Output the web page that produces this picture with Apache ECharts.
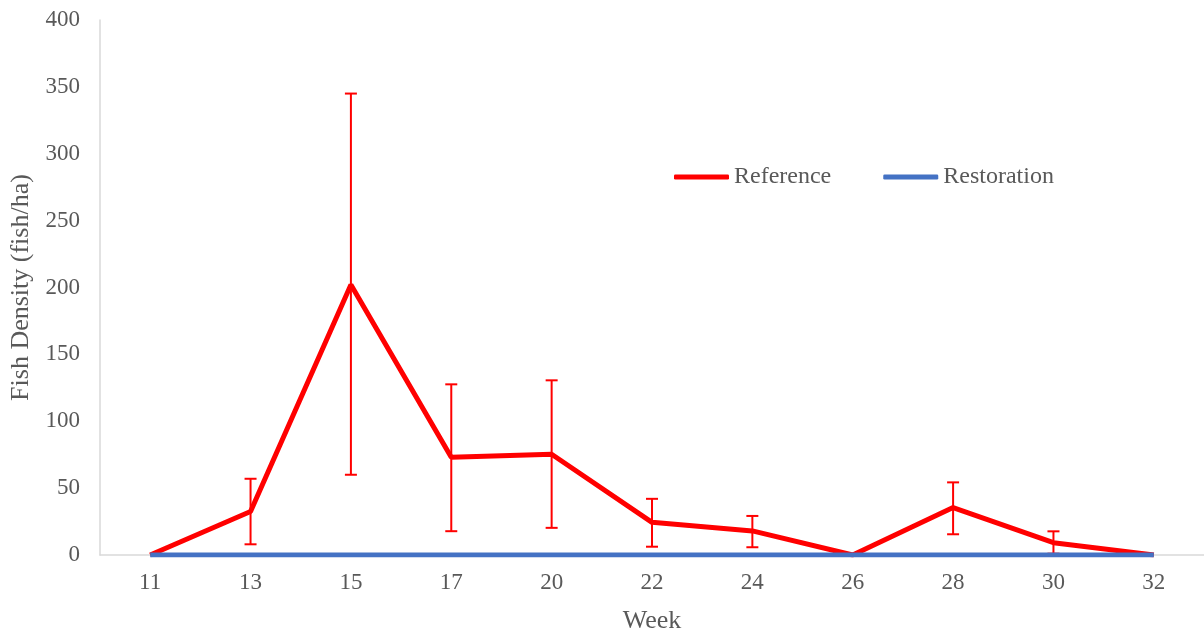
<!DOCTYPE html>
<html><head><meta charset="utf-8">
<script src="https://cdn.jsdelivr.net/npm/echarts@6/dist/echarts.min.js"></script>
<style>html,body{margin:0;padding:0;background:#fff}#c{width:1204px;height:636px}</style>
</head><body><div id="c"></div>
<script>
const weeks = ['11','13','15','17','20','22','24','26','28','30','32'];
const reference = [0, 32.5, 202, 73, 75.3, 24.4, 18, 0, 35.5, 9.2, 0];
const restoration = [0,0,0,0,0,0,0,0,0,0,0];
const errLow = [null, 8, 60, 17.8, 20.3, 6.2, 5.8, null, 15.5, 1, null];
const errHigh = [null, 57, 345, 127.6, 130.6, 42, 29.2, null, 54.3, 17.7, null];
const yTicks = [0,50,100,150,200,250,300,350,400];

const errData = weeks.map((w,i)=> errLow[i]==null ? null : [i, errLow[i], errHigh[i]]).filter(d=>d);
const font = '"Liberation Serif", "Times New Roman", serif';
const chart = echarts.init(document.getElementById('c'));
chart.setOption({
  animation:false,
  grid:{left:100,right:0,top:20,bottom:81,outerBoundsMode:'none',containLabel:false},
  legend:{
    data:['Reference','Restoration'], left:674, top:165, padding:0, itemWidth:55, itemHeight:5, itemGap:52,
    icon:'roundRect',
    textStyle:{fontFamily:font,fontSize:24,color:'#595959'}
  },
  xAxis:{
    type:'category', data:weeks, boundaryGap:true,
    name:'Week', nameLocation:'middle', nameGap:53,
    nameTextStyle:{fontFamily:font,fontSize:26,color:'#595959'},
    axisLine:{lineStyle:{color:'#d9d9d9',width:1.5}}, axisTick:{show:false},
    axisLabel:{fontFamily:font,fontSize:23,color:'#595959',margin:16}
  },
  yAxis:{
    type:'value', min:0, max:400, interval:50,
    name:'Fish Density (fish/ha)', nameLocation:'middle', nameGap:62, nameRotate:90,
    nameTextStyle:{fontFamily:font,fontSize:26,color:'#595959'},
    axisLine:{show:true,lineStyle:{color:'#d9d9d9',width:1.5}}, axisTick:{show:false},
    splitLine:{show:false},
    axisLabel:{fontFamily:font,fontSize:23,color:'#595959',margin:20,
      formatter:v=> yTicks.includes(v)? String(v):''}
  },
  series:[
    {name:'Reference', type:'line', data:reference, showSymbol:false, symbol:'none',
     lineStyle:{color:'#ff0000',width:5}, itemStyle:{color:'#ff0000'}, z:2},
    {name:'err', type:'custom', data:errData, z:3,
     renderItem:(params,api)=>{
       const x = api.value(0);
       const lo = api.coord([x, api.value(1)]);
       const hi = api.coord([x, api.value(2)]);
       const h = 6;
       const st = {stroke:'#ff0000', lineWidth:2};
       return {type:'group', children:[
         {type:'line', shape:{x1:lo[0],y1:lo[1],x2:hi[0],y2:hi[1]}, style:st},
         {type:'line', shape:{x1:lo[0]-h,y1:lo[1],x2:lo[0]+h,y2:lo[1]}, style:st},
         {type:'line', shape:{x1:hi[0]-h,y1:hi[1],x2:hi[0]+h,y2:hi[1]}, style:st}
       ]};
     }},
    {name:'Restoration', type:'line', data:restoration, showSymbol:false, symbol:'none',
     lineStyle:{color:'#4472c4',width:5}, itemStyle:{color:'#4472c4'}, z:4}
  ]
});
</script></body></html>
